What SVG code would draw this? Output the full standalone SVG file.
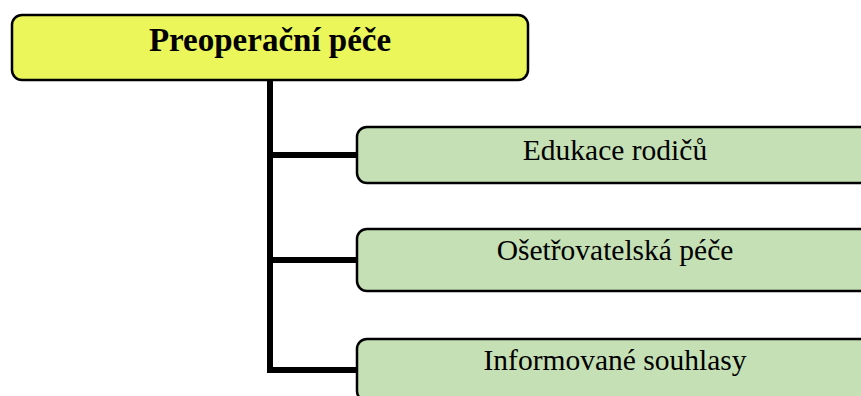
<svg xmlns="http://www.w3.org/2000/svg" width="861" height="396" viewBox="0 0 861 396">
  <style>
    .box { stroke: #000; stroke-width: 2.5; }
    .root { fill: #eaf65a; }
    .child { fill: #c5e0b4; }
    .wire { fill: none; stroke: #000; stroke-width: 6; stroke-linejoin: miter; stroke-linecap: butt; }
    text { font-family: "Liberation Serif", "Times New Roman", serif; fill: #000; text-anchor: middle; }
    .title { font-size: 33px; font-weight: bold; }
    .label { font-size: 29.5px; }
  </style>
  <rect width="861" height="396" fill="#fff"/>

  <!-- connectors: trunk from the root down, with a branch to each child -->
  <g id="connectors">
    <path class="wire" d="M270 80 V373"/>
    <path class="wire" d="M270 155 H358"/>
    <path class="wire" d="M270 260 H358"/>
    <path class="wire" d="M267 370 H358"/>
  </g>

  <g id="root">
    <rect class="box root" x="12" y="15" width="516" height="65" rx="10"/>
    <text class="title" x="270" y="51">Preoperační péče</text>
  </g>

  <g id="node-edukace">
    <rect class="box child" x="357" y="127" width="520" height="56" rx="10"/>
    <text class="label" x="615" y="160">Edukace rodičů</text>
  </g>

  <g id="node-osetrovatelska">
    <rect class="box child" x="357" y="229" width="520" height="62" rx="10"/>
    <text class="label" x="615" y="260">Ošetřovatelská péče</text>
  </g>

  <g id="node-souhlasy">
    <rect class="box child" x="357" y="339" width="520" height="62" rx="10"/>
    <text class="label" x="615" y="370">Informované souhlasy</text>
  </g>
</svg>
